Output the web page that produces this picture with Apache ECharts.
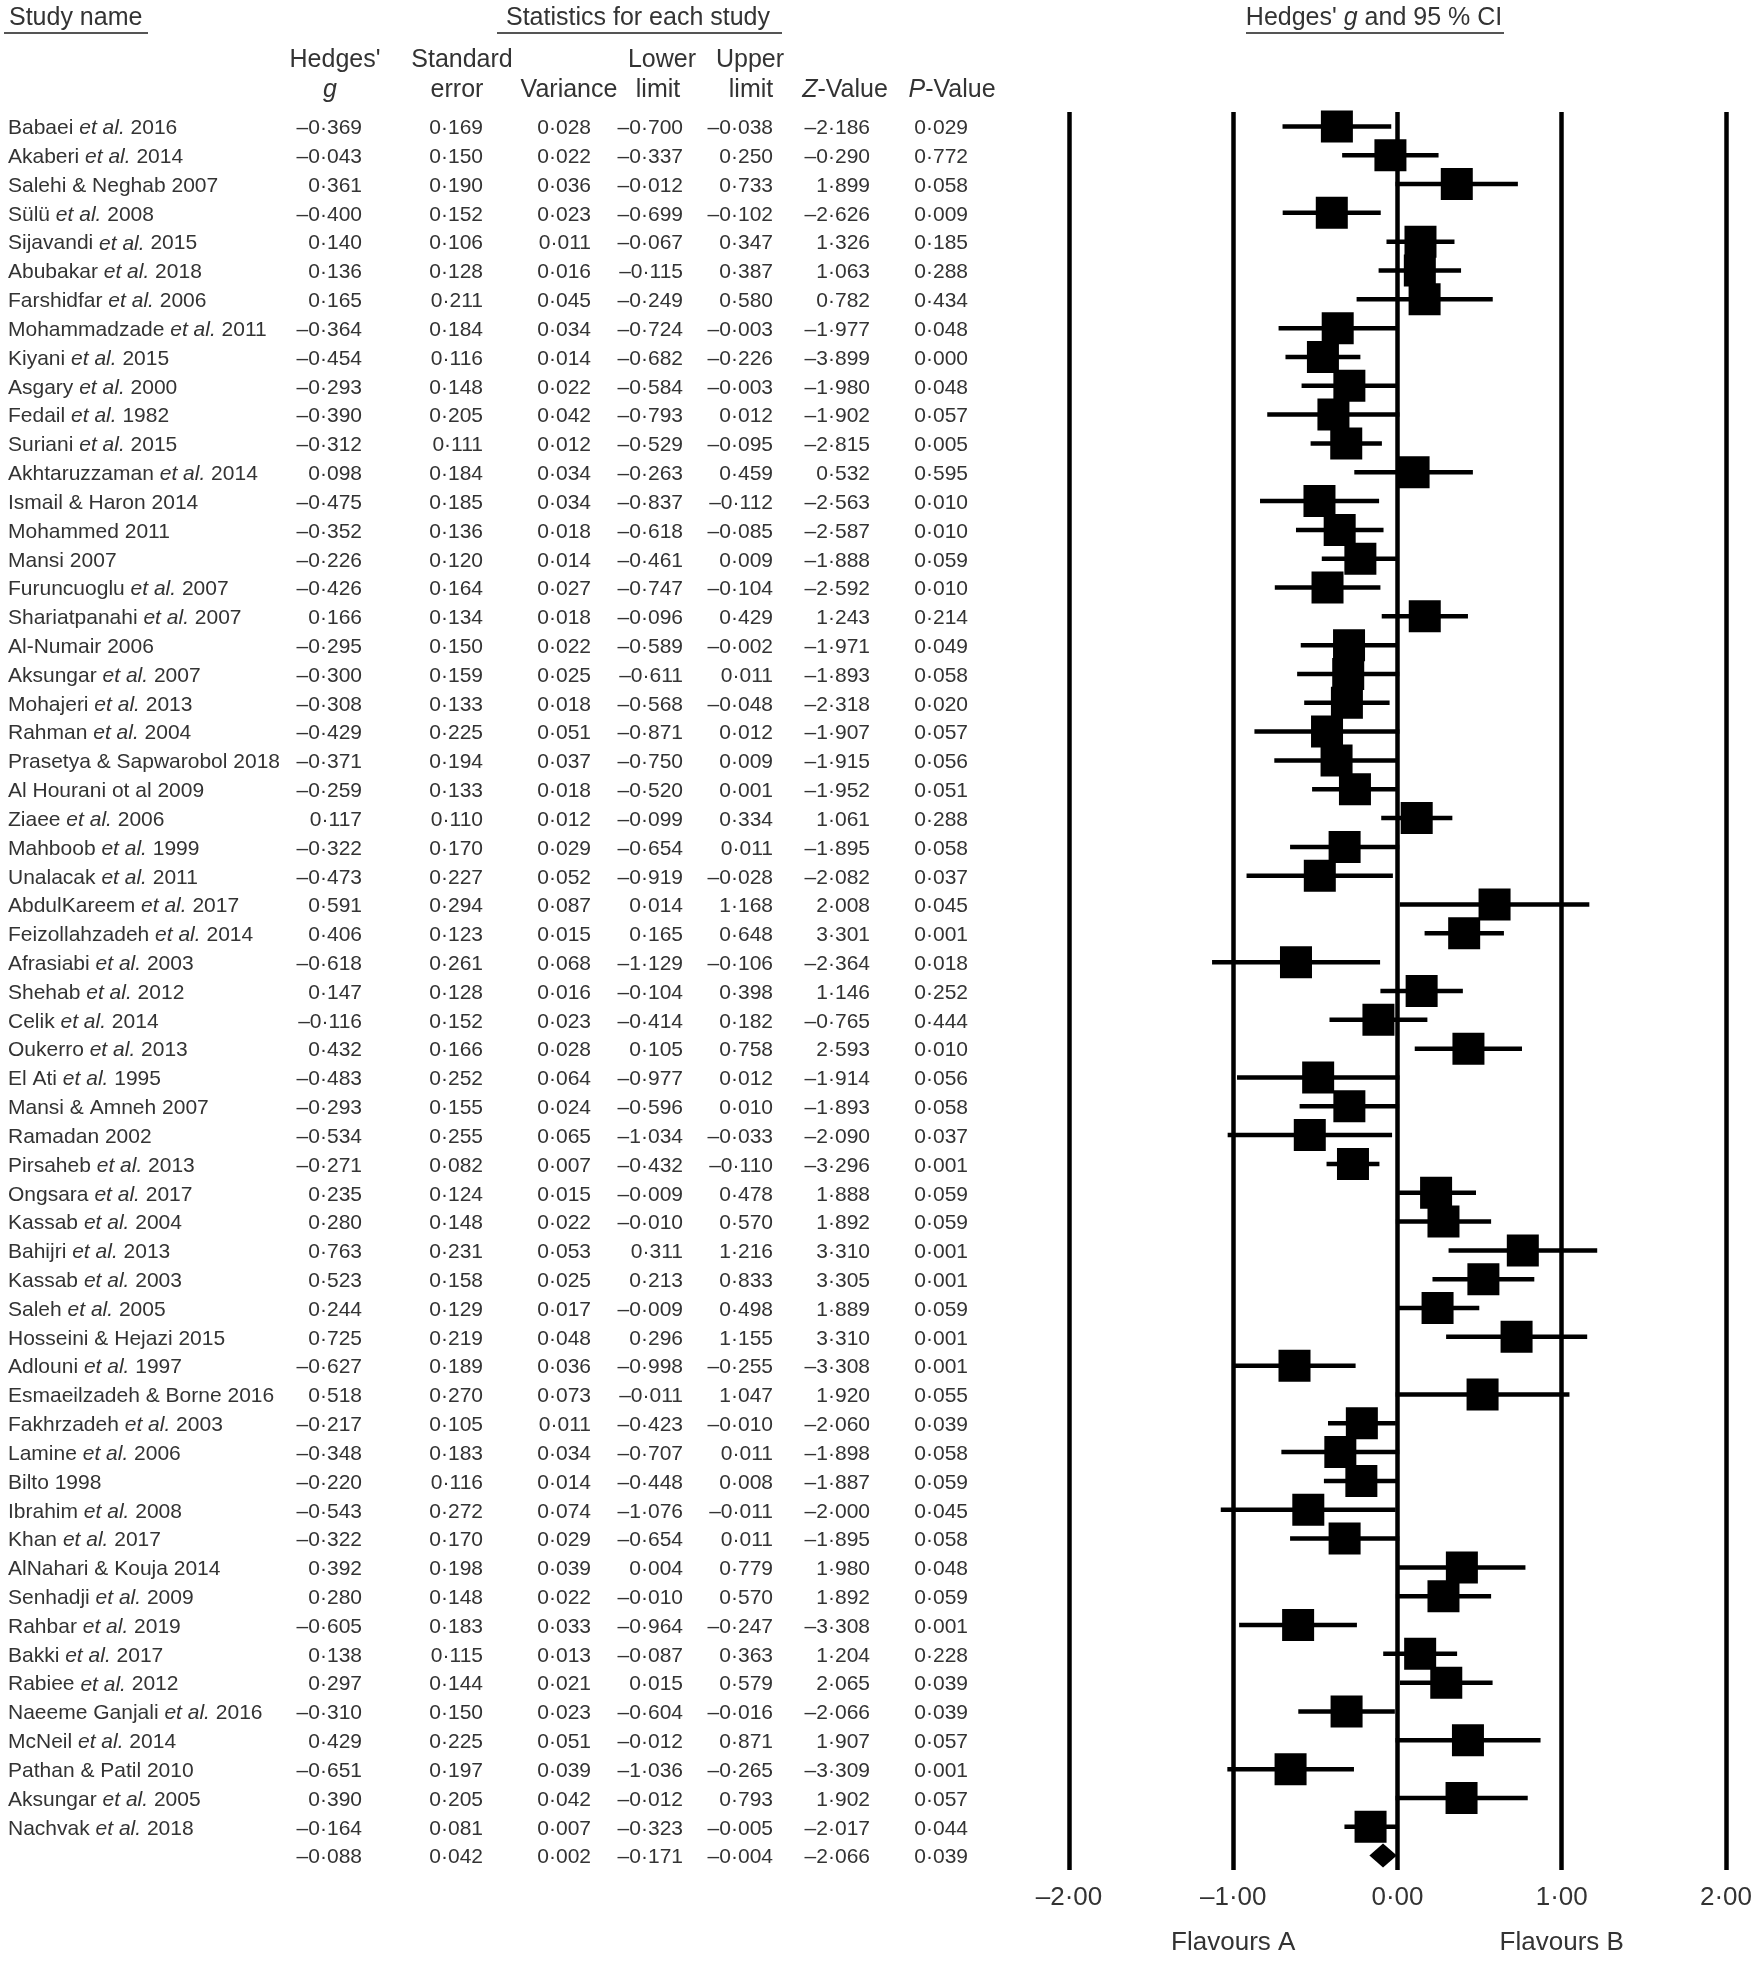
<!DOCTYPE html>
<html><head><meta charset="utf-8">
<script src="https://cdn.jsdelivr.net/npm/echarts@6/dist/echarts.min.js"></script>
<style>html,body{margin:0;padding:0;background:#fff}#c{width:1755px;height:1965px}</style>
</head><body><div id="c"></div>
<script>
// ---------------- DATA ----------------
const studyNames = [
  'Babaei et al. 2016','Akaberi et al. 2014','Salehi & Neghab 2007','Sülü et al. 2008','Sijavandi et al. 2015',
  'Abubakar et al. 2018','Farshidfar et al. 2006','Mohammadzade et al. 2011','Kiyani et al. 2015','Asgary et al. 2000',
  'Fedail et al. 1982','Suriani et al. 2015','Akhtaruzzaman et al. 2014','Ismail & Haron 2014','Mohammed 2011',
  'Mansi 2007','Furuncuoglu et al. 2007','Shariatpanahi et al. 2007','Al-Numair 2006','Aksungar et al. 2007',
  'Mohajeri et al. 2013','Rahman et al. 2004','Prasetya & Sapwarobol 2018','Al Hourani ot al 2009','Ziaee et al. 2006',
  'Mahboob et al. 1999','Unalacak et al. 2011','AbdulKareem et al. 2017','Feizollahzadeh et al. 2014','Afrasiabi et al. 2003',
  'Shehab et al. 2012','Celik et al. 2014','Oukerro et al. 2013','El Ati et al. 1995','Mansi & Amneh 2007',
  'Ramadan 2002','Pirsaheb et al. 2013','Ongsara et al. 2017','Kassab et al. 2004','Bahijri et al. 2013',
  'Kassab et al. 2003','Saleh et al. 2005','Hosseini & Hejazi 2015','Adlouni et al. 1997','Esmaeilzadeh & Borne 2016',
  'Fakhrzadeh et al. 2003','Lamine et al. 2006','Bilto 1998','Ibrahim et al. 2008','Khan et al. 2017',
  'AlNahari & Kouja 2014','Senhadji et al. 2009','Rahbar et al. 2019','Bakki et al. 2017','Rabiee et al. 2012',
  'Naeeme Ganjali et al. 2016','McNeil et al. 2014','Pathan & Patil 2010','Aksungar et al. 2005','Nachvak et al. 2018'
];
const hedgesG = [
  -0.369,-0.043,0.361,-0.400,0.140,0.136,0.165,-0.364,-0.454,-0.293,
  -0.390,-0.312,0.098,-0.475,-0.352,-0.226,-0.426,0.166,-0.295,-0.300,
  -0.308,-0.429,-0.371,-0.259,0.117,-0.322,-0.473,0.591,0.406,-0.618,
  0.147,-0.116,0.432,-0.483,-0.293,-0.534,-0.271,0.235,0.280,0.763,
  0.523,0.244,0.725,-0.627,0.518,-0.217,-0.348,-0.220,-0.543,-0.322,
  0.392,0.280,-0.605,0.138,0.297,-0.310,0.429,-0.651,0.390,-0.164
];
const standardError = [
  0.169,0.150,0.190,0.152,0.106,0.128,0.211,0.184,0.116,0.148,
  0.205,0.111,0.184,0.185,0.136,0.120,0.164,0.134,0.150,0.159,
  0.133,0.225,0.194,0.133,0.110,0.170,0.227,0.294,0.123,0.261,
  0.128,0.152,0.166,0.252,0.155,0.255,0.082,0.124,0.148,0.231,
  0.158,0.129,0.219,0.189,0.270,0.105,0.183,0.116,0.272,0.170,
  0.198,0.148,0.183,0.115,0.144,0.150,0.225,0.197,0.205,0.081
];
const varianceValues = [
  0.028,0.022,0.036,0.023,0.011,0.016,0.045,0.034,0.014,0.022,
  0.042,0.012,0.034,0.034,0.018,0.014,0.027,0.018,0.022,0.025,
  0.018,0.051,0.037,0.018,0.012,0.029,0.052,0.087,0.015,0.068,
  0.016,0.023,0.028,0.064,0.024,0.065,0.007,0.015,0.022,0.053,
  0.025,0.017,0.048,0.036,0.073,0.011,0.034,0.014,0.074,0.029,
  0.039,0.022,0.033,0.013,0.021,0.023,0.051,0.039,0.042,0.007
];
const lowerLimit = [
  -0.700,-0.337,-0.012,-0.699,-0.067,-0.115,-0.249,-0.724,-0.682,-0.584,
  -0.793,-0.529,-0.263,-0.837,-0.618,-0.461,-0.747,-0.096,-0.589,-0.611,
  -0.568,-0.871,-0.750,-0.520,-0.099,-0.654,-0.919,0.014,0.165,-1.129,
  -0.104,-0.414,0.105,-0.977,-0.596,-1.034,-0.432,-0.009,-0.010,0.311,
  0.213,-0.009,0.296,-0.998,-0.011,-0.423,-0.707,-0.448,-1.076,-0.654,
  0.004,-0.010,-0.964,-0.087,0.015,-0.604,-0.012,-1.036,-0.012,-0.323
];
const upperLimit = [
  -0.038,0.250,0.733,-0.102,0.347,0.387,0.580,-0.003,-0.226,-0.003,
  0.012,-0.095,0.459,-0.112,-0.085,0.009,-0.104,0.429,-0.002,0.011,
  -0.048,0.012,0.009,0.001,0.334,0.011,-0.028,1.168,0.648,-0.106,
  0.398,0.182,0.758,0.012,0.010,-0.033,-0.110,0.478,0.570,1.216,
  0.833,0.498,1.155,-0.255,1.047,-0.010,0.011,0.008,-0.011,0.011,
  0.779,0.570,-0.247,0.363,0.579,-0.016,0.871,-0.265,0.793,-0.005
];
const zValues = [
  -2.186,-0.290,1.899,-2.626,1.326,1.063,0.782,-1.977,-3.899,-1.980,
  -1.902,-2.815,0.532,-2.563,-2.587,-1.888,-2.592,1.243,-1.971,-1.893,
  -2.318,-1.907,-1.915,-1.952,1.061,-1.895,-2.082,2.008,3.301,-2.364,
  1.146,-0.765,2.593,-1.914,-1.893,-2.090,-3.296,1.888,1.892,3.310,
  3.305,1.889,3.310,-3.308,1.920,-2.060,-1.898,-1.887,-2.000,-1.895,
  1.980,1.892,-3.308,1.204,2.065,-2.066,1.907,-3.309,1.902,-2.017
];
const pValues = [
  0.029,0.772,0.058,0.009,0.185,0.288,0.434,0.048,0.000,0.048,
  0.057,0.005,0.595,0.010,0.010,0.059,0.010,0.214,0.049,0.058,
  0.020,0.057,0.056,0.051,0.288,0.058,0.037,0.045,0.001,0.018,
  0.252,0.444,0.010,0.056,0.058,0.037,0.001,0.059,0.059,0.001,
  0.001,0.059,0.001,0.001,0.055,0.039,0.058,0.059,0.045,0.058,
  0.048,0.059,0.001,0.228,0.039,0.039,0.057,0.001,0.057,0.044
];
// summary (pooled) row: g, SE, variance, lower, upper, Z, P
const summaryStats = [-0.088, 0.042, 0.002, -0.171, -0.004, -2.066, 0.039];
const xTickValues = [-2, -1, 0, 1, 2];
const directionLabels = [[-1, 'Flavours A'], [1, 'Flavours B']];

// ---------------- LAYOUT ----------------
const FONT = '"Liberation Sans", Arial, Helvetica, sans-serif';
const TXT = '#333';
const DATA_FS = 21, HEAD_FS = 25;
const COL_X = { name: 8, g: 362, se: 483, variance: 591, lower: 683, upper: 773, z: 870, p: 968 };
const TEXT_DY = 2;
const GRID_TOP = 112, GRID_BOTTOM = 95;
const nRows = studyNames.length + 1;
const yMin = -0.5, yMax = nRows - 0.5;

function fmt(v) {
  const s = Math.abs(v).toFixed(3).replace('.', '\u00b7');
  return (v < 0 ? '\u2013' : '') + s;
}
function fmtTick(v) {
  const s = Math.abs(v).toFixed(2).replace('.', '\u00b7');
  return (v < 0 ? '\u2013' : '') + s;
}
function richName(name) {
  return name.split('et al.').join('{i|et al.}');
}

const tableRows = studyNames.map((n, i) => [i, hedgesG[i], standardError[i], varianceValues[i], lowerLimit[i], upperLimit[i], zValues[i], pValues[i]]);
tableRows.push([studyNames.length].concat(summaryStats));

const forestRows = studyNames.map((n, i) => [i, hedgesG[i], lowerLimit[i], upperLimit[i]]);
const summaryForest = [[studyNames.length, summaryStats[0], summaryStats[3], summaryStats[4]]];

function renderTable(params, api) {
  const i = api.value(0);
  const y = api.coord([0, i])[1] + TEXT_DY;
  const children = [];
  const name = i < studyNames.length ? studyNames[i] : '';
  children.push({ type: 'text', style: { x: COL_X.name, y: y, text: richName(name), fontSize: DATA_FS, fontFamily: FONT, fill: TXT, align: 'left', verticalAlign: 'middle', rich: { i: { fontStyle: 'italic', fontSize: DATA_FS, fontFamily: FONT, color: TXT } } } });
  const keys = ['g', 'se', 'variance', 'lower', 'upper', 'z', 'p'];
  keys.forEach((k, j) => {
    children.push({ type: 'text', style: { x: COL_X[k], y: y, text: fmt(api.value(j + 1)), fontSize: DATA_FS, fontFamily: FONT, fill: TXT, align: 'right', verticalAlign: 'middle' } });
  });
  return { type: 'group', children: children };
}

const LINE_W = 4.5, BOX = 32, DIAMOND_H = 12;
function renderStudy(params, api) {
  const i = api.value(0);
  const pG = api.coord([api.value(1), i]);
  const pLo = api.coord([api.value(2), i]);
  const pHi = api.coord([api.value(3), i]);
  return { type: 'group', children: [
    { type: 'line', shape: { x1: pLo[0], y1: pLo[1], x2: pHi[0], y2: pHi[1] }, style: { stroke: '#000', lineWidth: LINE_W } },
    { type: 'rect', shape: { x: pG[0] - BOX / 2, y: pG[1] - BOX / 2, width: BOX, height: BOX }, style: { fill: '#000' } }
  ] };
}
function renderSummary(params, api) {
  const i = api.value(0);
  const pG = api.coord([api.value(1), i]);
  const pLo = api.coord([api.value(2), i]);
  const pHi = api.coord([api.value(3), i]);
  return { type: 'polygon', shape: { points: [[pLo[0], pLo[1]], [pG[0], pG[1] - DIAMOND_H], [pHi[0], pHi[1]], [pG[0], pG[1] + DIAMOND_H]] }, style: { fill: '#000' } };
}
function renderDirection(params, api) {
  const p = api.coord([api.value(0), yMax]);
  return { type: 'text', style: { x: p[0], y: p[1] + 73, text: directionLabels[params.dataIndex][1], fontSize: 26, fontFamily: FONT, fill: TXT, align: 'center', verticalAlign: 'middle' } };
}

function headText(x, y, text, align, rich) {
  return { type: 'text', x: x, y: y, style: { text: text, fontSize: HEAD_FS, fontFamily: FONT, fill: TXT, align: align || 'center', verticalAlign: 'middle', rich: rich || {} } };
}
const hRich = { i: { fontStyle: 'italic', fontSize: HEAD_FS, fontFamily: FONT, color: TXT } };
function uline(x1, x2, y) {
  return { type: 'line', shape: { x1: x1, y1: y, x2: x2, y2: y }, style: { stroke: '#555', lineWidth: 2 } };
}

const chart = echarts.init(document.getElementById('c'), null, { renderer: 'canvas' });
chart.setOption({
  backgroundColor: '#fff',
  animation: false,
  grid: [
    { left: 0, right: 0, top: GRID_TOP, bottom: GRID_BOTTOM },
    { left: 1069, right: 28, top: GRID_TOP, bottom: GRID_BOTTOM }
  ],
  xAxis: [
    { gridIndex: 0, type: 'value', min: 0, max: 1755, show: false },
    { gridIndex: 1, type: 'value', min: xTickValues[0], max: xTickValues[xTickValues.length - 1], interval: 1,
      axisLine: { show: false }, axisTick: { show: false },
      splitLine: { show: true, showMinLine: true, showMaxLine: true, lineStyle: { color: '#000', width: LINE_W } },
      axisLabel: { show: true, formatter: fmtTick, fontSize: 26, fontFamily: FONT, color: TXT, margin: 15 } }
  ],
  yAxis: [
    { gridIndex: 0, type: 'value', min: yMin, max: yMax, inverse: true, show: false },
    { gridIndex: 1, type: 'value', min: yMin, max: yMax, inverse: true, show: false }
  ],
  series: [
    { type: 'custom', xAxisIndex: 0, yAxisIndex: 0, renderItem: renderTable, data: tableRows, silent: true, encode: { x: 1, y: 0 } },
    { type: 'custom', xAxisIndex: 1, yAxisIndex: 1, renderItem: renderStudy, data: forestRows, silent: true, encode: { x: [1, 2, 3], y: 0 } },
    { type: 'custom', xAxisIndex: 1, yAxisIndex: 1, renderItem: renderSummary, data: summaryForest, silent: true, encode: { x: [1, 2, 3], y: 0 } },
    { type: 'custom', xAxisIndex: 1, yAxisIndex: 1, renderItem: renderDirection, data: directionLabels.map(d => [d[0], yMax]), silent: true, encode: { x: 0, y: 1 } }
  ],
  graphic: [
    headText(9, 18, 'Study name', 'left'),
    uline(4, 148, 33),
    headText(638, 18, 'Statistics for each study'),
    uline(497, 782, 33),
    headText(1374, 18, "Hedges' {i|g} and 95 % CI", 'center', hRich),
    uline(1246, 1504, 33),
    headText(335, 60, "Hedges'"),
    headText(330, 90, '{i|g}', 'center', hRich),
    headText(462, 60, 'Standard'),
    headText(457, 90, 'error'),
    headText(569, 90, 'Variance'),
    headText(662, 60, 'Lower'),
    headText(658, 90, 'limit'),
    headText(750, 60, 'Upper'),
    headText(751, 90, 'limit'),
    headText(845, 90, '{i|Z}-Value', 'center', hRich),
    headText(952, 90, '{i|P}-Value', 'center', hRich)
  ]
});
</script></body></html>
